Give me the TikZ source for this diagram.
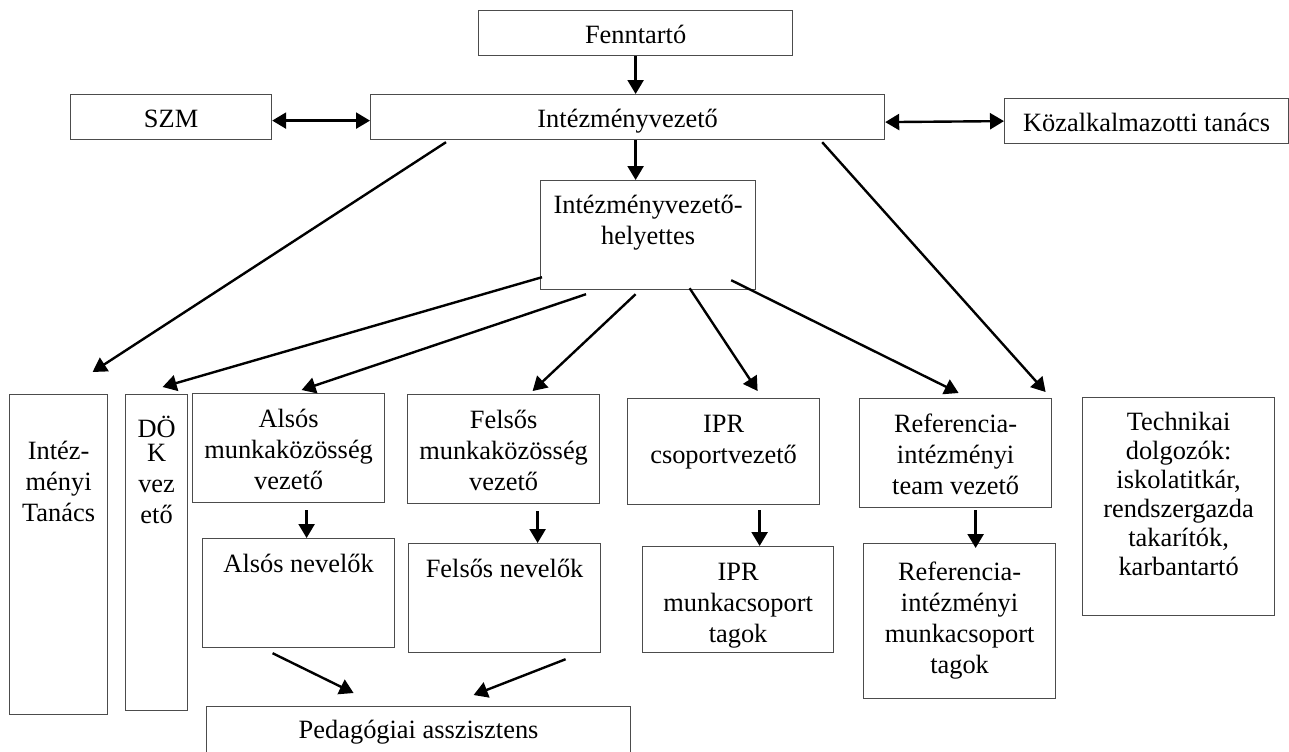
\documentclass[tikz,border=0pt]{standalone}
\usepackage{fontspec}
\setmainfont{Liberation Serif}
\usetikzlibrary{arrows.meta}
\newcommand{\boxlines}[4]{\parbox[t][#2][t]{#1}{\centering\rule{0pt}{#3}#4}}
\begin{document}
\begin{tikzpicture}
  [x=0.5pt,y=-0.5pt,
   every node/.style={font=\fontsize{13.2}{15.5}\selectfont},
   box/.style={draw=black!70,line width=0.6pt,inner sep=0pt,anchor=north west},
   single/.style={minimum height=22.5pt,text height=10.5pt,text depth=0pt},
   arr/.style={-{Triangle[length=7pt,width=8pt]}},
   darr/.style={{Triangle[length=7pt,width=8pt]}-{Triangle[length=7pt,width=8pt]}}]
  \useasboundingbox (0,0) rectangle (1289,751);
  \node[box,single,minimum width=157pt] (fenn) at (478,10) {Fenntartó};
  \node[box,single,minimum width=100.5pt] (szm) at (70,94) {SZM};
  \node[box,single,minimum width=257pt] (iv) at (370,94) {Intézményvezető};
  \node[box,single,minimum width=142pt] (kozt) at (1004,98) {Közalkalmazotti tanács};
  \node[box] (ivh) at (540,180) {\boxlines{107.5pt}{54.5pt}{16.5pt}{Intézményvezető-\\helyettes}};
  \node[box] (itan) at (9,394) {\boxlines{49pt}{160pt}{32.5pt}{Intéz-\\ményi\\Tanács}};
  \node[box] (dok) at (125,394) {\boxlines{31pt}{158pt}{21.5pt}{DÖ\\[-3.7pt]K\\vez\\ető}};
  \node[box] (alsm) at (192,393) {\boxlines{96pt}{54.5pt}{17pt}{Alsós\\munkaközösség\\vezető}};
  \node[box] (felm) at (407,394) {\boxlines{96pt}{54.5pt}{17pt}{Felsős\\munkaközösség\\vezető}};
  \node[box] (alsn) at (202,538) {\boxlines{96pt}{54.5pt}{17pt}{Alsós nevelők}};
  \node[box] (feln) at (408,543) {\boxlines{96pt}{54.5pt}{17pt}{Felsős nevelők}};
  \node[box] (iprv) at (627,398) {\boxlines{96pt}{53pt}{17pt}{IPR\\csoportvezető}};
  \node[box] (iprt) at (642,546) {\boxlines{95.5pt}{53pt}{17pt}{IPR\\munkacsoport\\tagok}};
  \node[box] (refv) at (859,398) {\boxlines{96pt}{54.5pt}{17pt}{Referencia-\\intézményi\\team vezető}};
  \node[box] (reft) at (863,543) {\boxlines{96pt}{77.5pt}{18.5pt}{Referencia-\\intézményi\\munkacsoport\\tagok}};
  \node[box] (tech) at (1082,397) {\boxlines{96pt}{109pt}{16.5pt}{\baselineskip=14.5pt Technikai\\dolgozók:\\iskolatitkár,\\rendszergazda\\takarítók,\\karbantartó}};
  \node[box] (ped) at (206,706) {\boxlines{212pt}{25pt}{16pt}{Pedagógiai asszisztens}};
 \path[draw,line width=1.2pt]
    (fenn.south) edge [arr] (fenn.south |- iv.north)
    ([yshift=-1.75pt]szm.east) edge [darr] ([yshift=-1.75pt]iv.west)
    ([yshift=-2.5pt]iv.east) edge [darr] (kozt.west)
    ([xshift=4pt]iv.south) edge [arr] ([xshift=-6.25pt]ivh.north)
    ([xshift=38pt,yshift=-1pt]iv.south west) edge [arr] ([xshift=17pt,yshift=11pt]itan.north)
    ([xshift=-31.5pt,yshift=-1pt]iv.south east) edge [arr] ([xshift=-66.5pt,yshift=2.5pt]tech.north)
    ([xshift=1pt,yshift=6.5pt]ivh.south west) edge [arr] ([xshift=3pt,yshift=3.5pt]dok.north)
    ([xshift=23pt,yshift=-2pt]ivh.south west) edge [arr] ([xshift=6.5pt,yshift=1.5pt]alsm.north)
    ([xshift=-6.25pt,yshift=-2pt]ivh.south) edge [arr] ([xshift=14.5pt,yshift=1.5pt]felm.north)
    ([xshift=20.75pt,yshift=1pt]ivh.south) edge [arr] ([xshift=17pt,yshift=3.5pt]iprv.north)
    ([xshift=-12.5pt,yshift=5pt]ivh.south east) edge [arr] ([xshift=1.5pt,yshift=2.5pt]refv.north)
    ([xshift=9pt,yshift=-3.5pt]alsm.south) edge [arr] ([xshift=9pt]alsm.south |- alsn.north)
    ([xshift=17pt,yshift=-3.5pt]felm.south) edge [arr] ([xshift=17pt]felm.south |- feln.north)
    ([xshift=18pt,yshift=-2.5pt]iprv.south) edge [arr] ([xshift=18pt]iprv.south |- iprt.north)
    ([xshift=10pt,yshift=-1pt]refv.south) edge [arr] ([xshift=10pt,yshift=-2.5pt]refv.south |- reft.north)
    ([xshift=-13pt,yshift=-2.5pt]alsn.south) edge [arr] ([xshift=-32.5pt,yshift=6.5pt]ped.north)
    ([xshift=30.5pt,yshift=-3pt]feln.south) edge [arr] ([xshift=27.5pt,yshift=5.5pt]ped.north)
    ;

\end{tikzpicture}
\end{document}
